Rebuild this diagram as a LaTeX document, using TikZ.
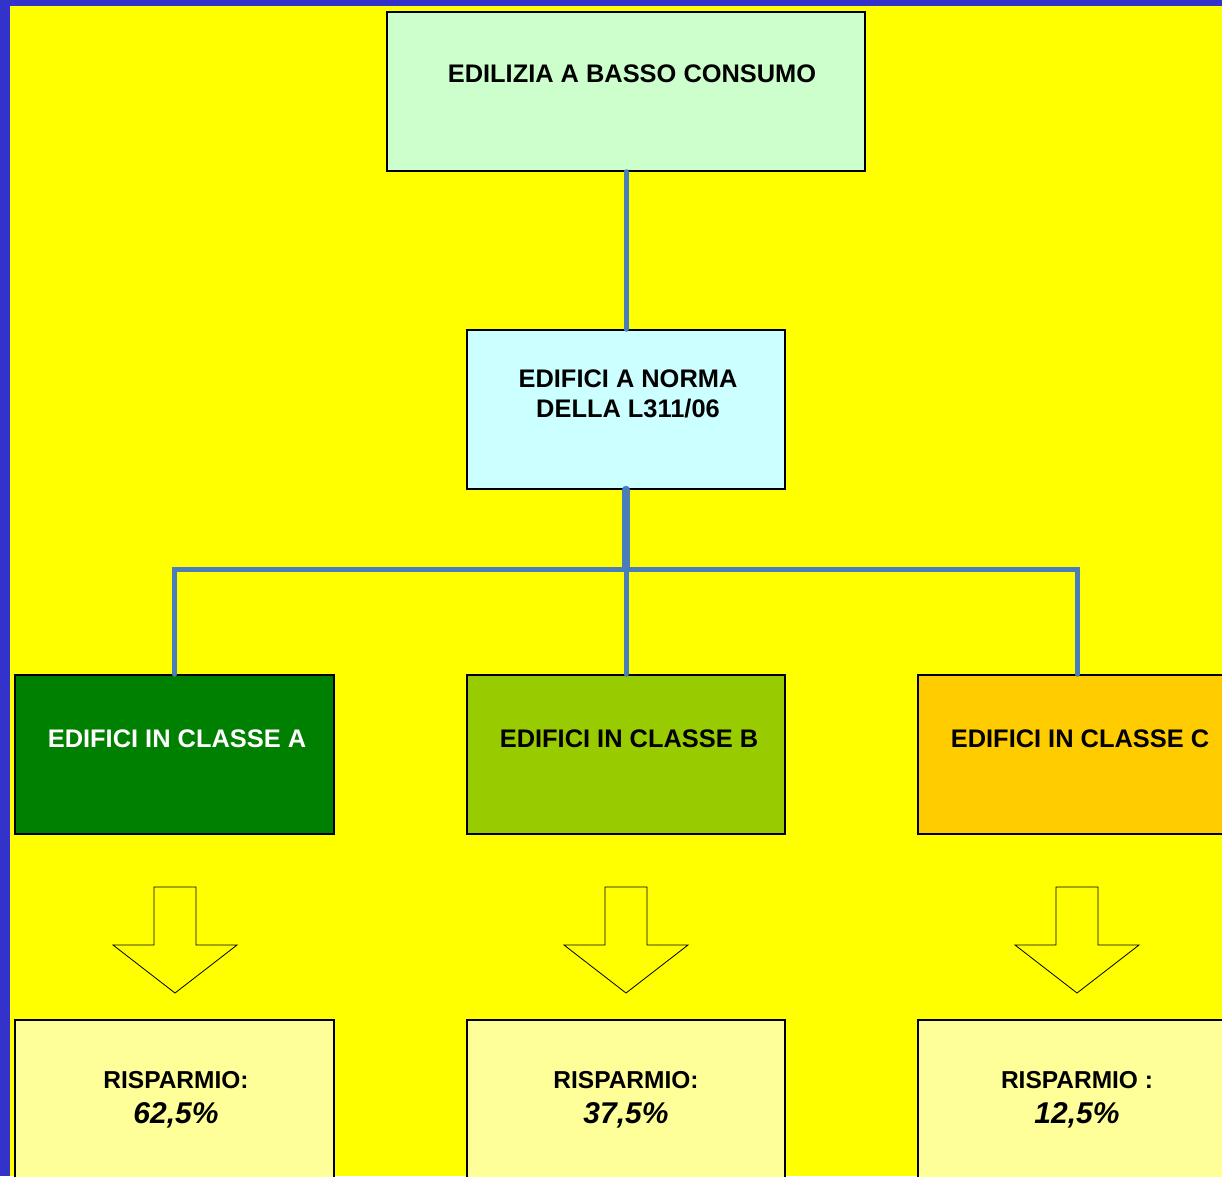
\documentclass[tikz,border=0pt]{standalone}
\usepackage{fontspec}
\setmainfont{Liberation Sans}
\definecolor{frameblue}{HTML}{3333CC}
\definecolor{bgyellow}{HTML}{FFFF00}
\definecolor{topgreen}{HTML}{CCFFCC}
\definecolor{midcyan}{HTML}{CCFFFF}
\definecolor{clsAgreen}{HTML}{008000}
\definecolor{clsBgreen}{HTML}{99CC00}
\definecolor{clsCorange}{HTML}{FFCC00}
\definecolor{botyellow}{HTML}{FFFF99}
\definecolor{connblue}{HTML}{4A7EBB}
\begin{document}
\begin{tikzpicture}[x=1pt,y=-1pt,
  box/.style={draw=black,line width=1.5pt,rectangle,inner sep=0pt,minimum width=319pt,minimum height=159pt},
  lbl/.style={font=\fontsize{25.4}{30}\selectfont\bfseries,align=center,inner sep=0pt},
  savlbl/.style={font=\fontsize{24.5}{30}\selectfont\bfseries,align=center,inner sep=0pt},
  conn/.style={draw=connblue,line width=5pt,line cap=round,line join=miter},
  blockarrow/.style={draw=black,line width=0.8pt,fill=bgyellow,line join=miter}]
\useasboundingbox (0,0) rectangle (1222,1176);
\fill[frameblue] (0,0) rectangle (1222,1176);
\fill[bgyellow] (10,6) rectangle (1222,1176);
\clip (0,0) rectangle (1222,1176);
% boxes
\node[box,fill=topgreen,minimum width=478pt] (top) at (626,91.5) {};
\node[box,fill=midcyan,minimum width=318pt] (mid) at (626,409.5) {};
\node[box,fill=clsAgreen] (clsA) at (174.5,754.5) {};
\node[box,fill=clsBgreen,minimum width=318pt] (clsB) at (626,754.5) {};
\node[box,fill=clsCorange] (clsC) at (1077.5,754.5) {};
\node[box,fill=botyellow] (botA) at (174.5,1099.5) {};
\node[box,fill=botyellow,minimum width=318pt] (botB) at (626,1099.5) {};
\node[box,fill=botyellow] (botC) at (1077.5,1099.5) {};
% texts
\node[lbl] (topT) at (632,74) {EDILIZIA A BASSO CONSUMO};
\node[lbl] (midT) at (628,394) {EDIFICI A NORMA\\DELLA L311/06};
\node[lbl,text=white] (clsAT) at (177,739) {EDIFICI IN CLASSE A};
\node[lbl] (clsBT) at (629,739) {EDIFICI IN CLASSE B};
\node[lbl] (clsCT) at (1080,739) {EDIFICI IN CLASSE C};
\node[savlbl] (botAT) at (176,1100) {RISPARMIO:\\[5pt]{\fontsize{30}{30}\selectfont\itshape 62,5\%}};
\node[savlbl] (botBT) at (626,1100) {RISPARMIO:\\[5pt]{\fontsize{30}{30}\selectfont\itshape 37,5\%}};
\node[savlbl] (botCT) at (1077,1100) {RISPARMIO :\\[5pt]{\fontsize{30}{30}\selectfont\itshape 12,5\%}};
% connectors
\coordinate (hub) at (626,569);
\coordinate (hl) at (clsA.north |- hub);
\coordinate (hr) at (clsC.north |- hub);
\draw[conn] (top.south) -- (mid.north);
\draw[conn] (clsA.north) -- (hl) -- (hr) -- (clsC.north);
\draw[conn] (hub) -- (clsB.north);
\draw[conn,line width=8pt] (mid.south) -- (hub);
% block arrows
\foreach \cx in {175,626,1077}{
  \draw[blockarrow] (\cx-21,887) -- (\cx+21,887) -- (\cx+21,945) -- (\cx+62,945)
    -- (\cx,993) -- (\cx-62,945) -- (\cx-21,945) -- cycle;
}
\end{tikzpicture}
\end{document}
